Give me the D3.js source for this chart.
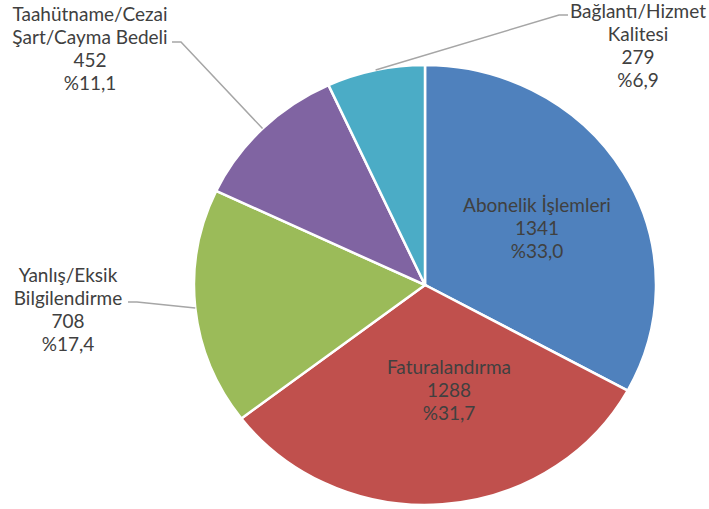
<!DOCTYPE html>
<html>
<head>
<meta charset="utf-8">
<script src="https://cdn.jsdelivr.net/npm/d3@7"></script>
<style>
  body { margin: 0; background: #fff; }
  text { font-family: Lato, "Open Sans", sans-serif; font-size: 19px; fill: #404040; }
</style>
</head>
<body>
<svg id="chart" width="709" height="509"></svg>
<script>
// slices, clockwise from 12 o'clock
const categories = ["Abonelik İşlemleri", "Faturalandırma", "Yanlış/Eksik Bilgilendirme", "Taahütname/Cezai Şart/Cayma Bedeli", "Bağlantı/Hizmet Kalitesi"]
const counts = [1341, 1288, 708, 452, 279]
const percents = ["%33,0", "%31,7", "%17,4", "%11,1", "%6,9"]
const colors = ["#4F81BD", "#C0504D", "#9BBB59", "#8064A2", "#4BACC6"]

// label placement (label lines, anchor, leader line start)
const labelLines = [
  ["Abonelik İşlemleri"],
  ["Faturalandırma"],
  ["Yanlış/Eksik", "Bilgilendirme"],
  ["Taahütname/Cezai", "Şart/Cayma Bedeli"],
  ["Bağlantı/Hizmet", "Kalitesi"]
]
const labelPos = [
  { x: 537, y: 212, inside: true },
  { x: 449, y: 374, inside: true },
  { x: 68, y: 282, lx: 128, ly: 302 },
  { x: 90, y: 21, lx: 172, ly: 42 },
  { x: 638, y: 18, lx: 568, ly: 15 }
]
const lineGap = 23

const cx = 425, cy = 285, ry = 220, rx = 231

const svg = d3.select("#chart")

const pie = d3.pie().sort(null).value(d => d)
const arcs = pie(counts)
const arc = d3.arc().innerRadius(0).outerRadius(ry)

const pieG = svg.append("g")
    .attr("transform", `translate(${cx},${cy}) scale(${rx / ry},1)`)

pieG.selectAll("path")
    .data(arcs)
    .enter().append("path")
    .attr("d", arc)
    .attr("fill", (d, i) => colors[i])
    .attr("stroke", "#fff")
    .attr("stroke-width", 2.5)
    .attr("vector-effect", "non-scaling-stroke")

// leader lines for outside labels
const edge = d => {
  const a = (d.startAngle + d.endAngle) / 2
  return [cx + rx * Math.sin(a), cy - ry * Math.cos(a)]
}

arcs.forEach((d, i) => {
  const p = labelPos[i]
  if (p.inside) return
  const [ex, ey] = edge(d)
  const dir = ex > p.lx ? 1 : -1
  svg.append("polyline")
      .attr("points", `${p.lx},${p.ly} ${p.lx + dir * 9},${p.ly} ${ex},${ey}`)
      .attr("fill", "none")
      .attr("stroke", "#A6A6A6")
      .attr("stroke-width", 1.5)
})

// labels
arcs.forEach((d, i) => {
  const p = labelPos[i]
  const lines = labelLines[i].concat([String(counts[i]), percents[i]])
  const t = svg.append("text")
      .attr("text-anchor", "middle")
  lines.forEach((s, j) => {
    t.append("tspan")
        .attr("x", p.x)
        .attr("y", p.y + j * lineGap)
        .text(s)
  })
})
</script>
</body>
</html>
